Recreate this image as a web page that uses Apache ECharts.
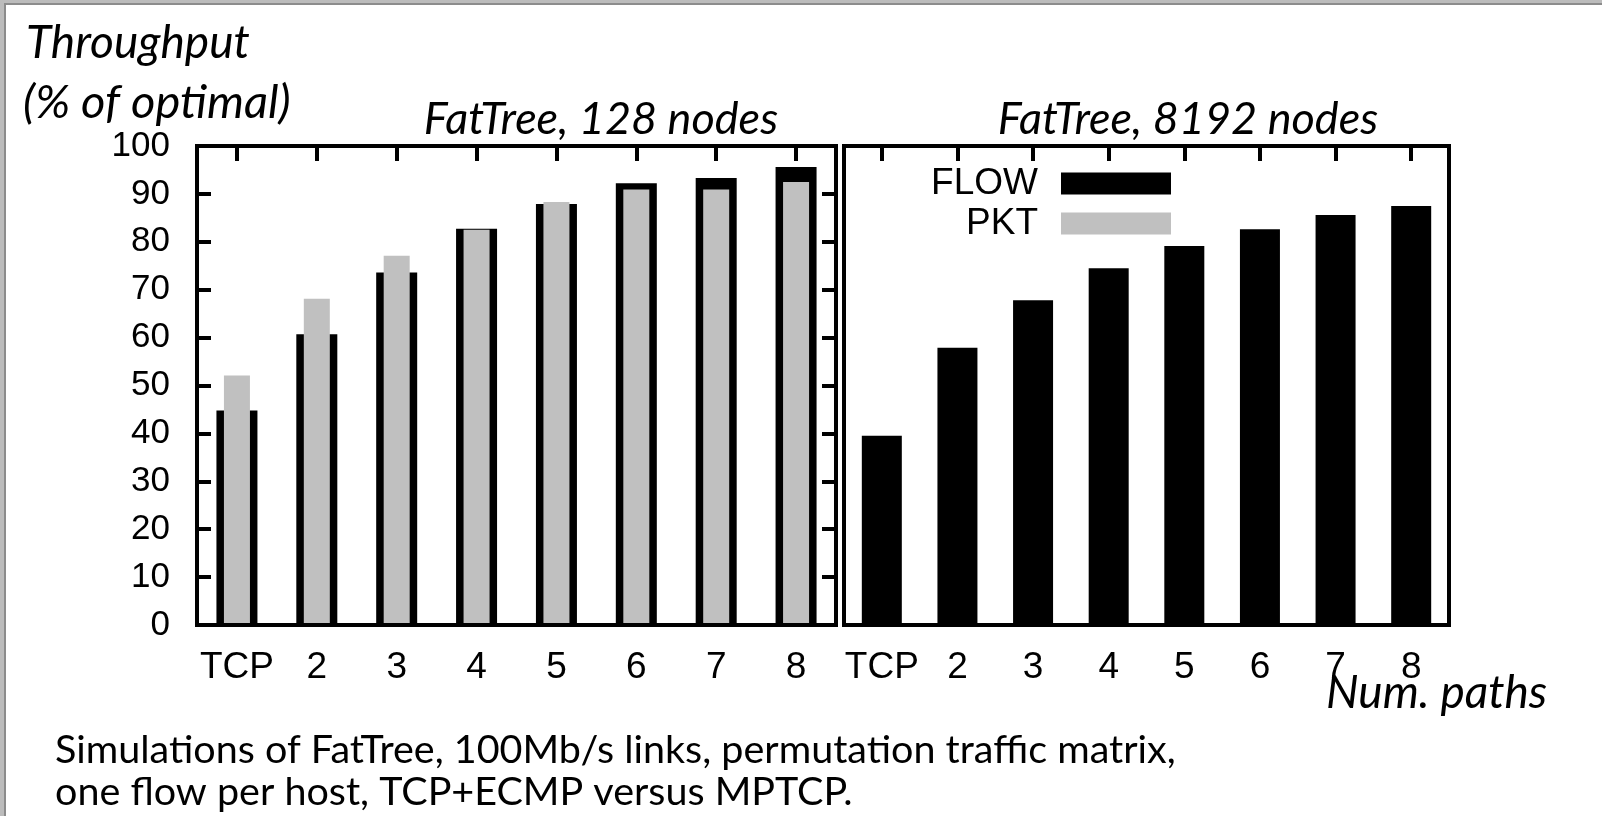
<!DOCTYPE html>
<html>
<head>
<meta charset="utf-8">
<script src="https://cdn.jsdelivr.net/npm/echarts@6/dist/echarts.min.js"></script>
<style>
  html, body { margin: 0; padding: 0; background: #ffffff; }
  #chart { position: absolute; left: 0; top: 0; width: 1602px; height: 816px; }
  .edge { position: absolute; pointer-events: none; }
</style>
</head>
<body>
<div id="chart"></div>
<!-- slide frame along the top and left edges -->
<div class="edge" style="left:0;top:0;width:1602px;height:3px;background:#bcbcbc;"></div>
<div class="edge" style="left:6px;top:3px;width:1596px;height:2px;background:#8c8c8c;"></div>
<div class="edge" style="left:0;top:0;width:4px;height:816px;background:#bcbcbc;"></div>
<div class="edge" style="left:4px;top:3px;width:2px;height:813px;background:#8c8c8c;"></div>
<script>
// Number of paths (x categories), shared by both panels
const categories = ['TCP', '2', '3', '4', '5', '6', '7', '8'];
// Throughput (% of optimal), FatTree with 128 nodes
const flow128 = [44.8, 60.7, 73.6, 82.7, 87.9, 92.2, 93.3, 95.6];
const pkt128  = [52.1, 68.1, 77.1, 82.5, 88.3, 90.9, 90.9, 92.5];
// Throughput (% of optimal), FatTree with 8192 nodes
const flow8192 = [39.5, 57.9, 67.8, 74.5, 79.1, 82.6, 85.6, 87.5];
// Value axis ticks
const yMin = 0, yMax = 100, yStep = 10;

const SANS = 'Liberation Sans';
const ITALIC = { fontFamily: 'Lato', fontStyle: 'italic', fontWeight: 'normal', color: '#000' };
const FLOW_COLOR = '#000000';
const PKT_COLOR = '#c0c0c0';

const chart = echarts.init(document.getElementById('chart'), null, { renderer: 'canvas' });

function frameGrid(left, width) {
  return {
    left: left, top: 146, width: width, height: 479,
    show: true, borderColor: '#000', borderWidth: 4, backgroundColor: 'transparent',
    z: 10
  };
}

function bottomAxis(gridIndex) {
  return {
    type: 'category', gridIndex: gridIndex, position: 'bottom', data: categories,
    boundaryGap: true,
    axisLine: { show: false, onZero: false }, axisTick: { show: false }, splitLine: { show: false },
    axisLabel: { interval: 0, color: '#000', fontFamily: SANS, fontSize: 37, margin: 24 }
  };
}

function topAxis(gridIndex) {
  return {
    type: 'category', gridIndex: gridIndex, position: 'top', data: categories,
    boundaryGap: true,
    axisLine: { show: false, onZero: false }, splitLine: { show: false },
    axisLabel: { show: false, interval: 0 },
    axisTick: { show: true, inside: true, alignWithLabel: true, interval: 0, length: 15,
                lineStyle: { color: '#000', width: 4 } },
    z: 11
  };
}

function valueAxis(gridIndex, position, withLabels, withTicks) {
  return {
    type: 'value', gridIndex: gridIndex, position: position,
    min: yMin, max: yMax, interval: yStep,
    axisLine: { show: false, onZero: false }, splitLine: { show: false },
    axisLabel: { show: withLabels, color: '#000', fontFamily: SANS, fontSize: 35, margin: 27 },
    axisTick: { show: withTicks, inside: true, length: 14,
                lineStyle: { color: '#000', width: 4 } },
    z: 11
  };
}

chart.setOption({
  animation: false,
  backgroundColor: '#ffffff',
  title: [
    { text: 'Throughput', left: 26, top: 20, padding: 0,
      textStyle: Object.assign({ fontSize: 46 }, ITALIC) },
    { text: '(% of optimal)', left: 23, top: 79, padding: 0,
      textStyle: Object.assign({ fontSize: 47 }, ITALIC) },
    { text: 'FatTree, 128 nodes', left: 601, textAlign: 'center', top: 97, padding: 0,
      textStyle: Object.assign({ fontSize: 45 }, ITALIC) },
    { text: 'FatTree, 8192 nodes', left: 1188, textAlign: 'center', top: 97, padding: 0,
      textStyle: Object.assign({ fontSize: 45 }, ITALIC) },
    { text: 'Num. paths', left: 1326, top: 670, padding: 0,
      textStyle: Object.assign({ fontSize: 46 }, ITALIC) },
    { text: 'Simulations of FatTree, 100Mb/s links, permutation traffic matrix,\none flow per host, TCP+ECMP versus MPTCP.',
      left: 55, top: 729, padding: 0,
      textStyle: { fontFamily: 'Lato', fontWeight: 'normal', fontSize: 39.5, lineHeight: 42, color: '#000' } }
  ],
  legend: {
    orient: 'vertical', align: 'right',
    right: 431, top: 165, padding: 0,
    itemWidth: 110, itemHeight: 22, itemGap: 3,
    icon: 'rect',
    data: ['FLOW', 'PKT'],
    textStyle: { fontFamily: SANS, fontSize: 37, lineHeight: 36, color: '#000', padding: [0, 18, 0, 0] }
  },
  grid: [frameGrid(197, 639), frameGrid(844, 605)],
  xAxis: [bottomAxis(0), topAxis(0), bottomAxis(1), topAxis(1)],
  yAxis: [
    valueAxis(0, 'left', true, true),
    valueAxis(0, 'right', false, true),
    valueAxis(1, 'left', false, false)
  ],
  series: [
    { name: 'FLOW', type: 'bar', xAxisIndex: 0, yAxisIndex: 0, data: flow128,
      barWidth: 41, itemStyle: { color: FLOW_COLOR }, z: 2 },
    { name: 'PKT', type: 'bar', xAxisIndex: 1, yAxisIndex: 0, data: pkt128,
      barWidth: 26, itemStyle: { color: PKT_COLOR }, z: 3 },
    { name: 'FLOW', type: 'bar', xAxisIndex: 2, yAxisIndex: 2, data: flow8192,
      barWidth: 40, itemStyle: { color: FLOW_COLOR }, z: 2 }
  ]
});
</script>
</body>
</html>
